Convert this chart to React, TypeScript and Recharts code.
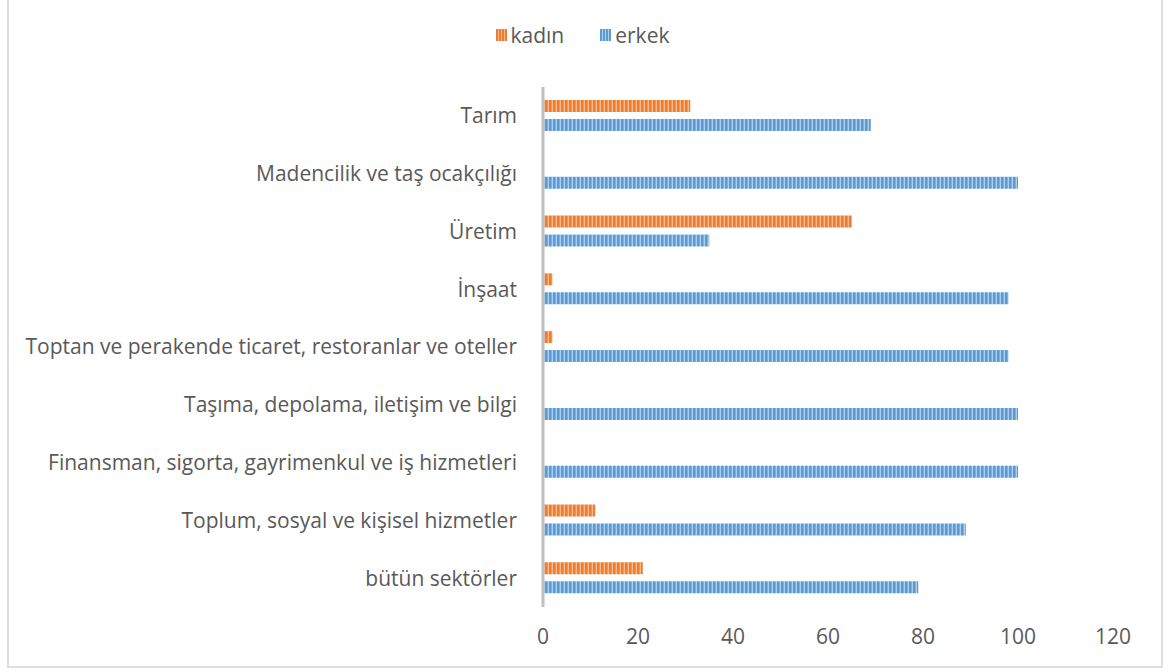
import React from 'react';
import { BarChart, Bar, XAxis, YAxis, Legend } from 'recharts';

const CATEGORIES = [
  'Tarım',
  'Madencilik ve taş ocakçılığı',
  'Üretim',
  'İnşaat',
  'Toptan ve perakende ticaret, restoranlar ve oteller',
  'Taşıma, depolama, iletişim ve bilgi',
  'Finansman, sigorta, gayrimenkul ve iş hizmetleri',
  'Toplum, sosyal ve kişisel hizmetler',
  'bütün sektörler',
];
const KADIN = [31, 0, 65, 2, 2, 0, 0, 11, 21];
const ERKEK = [69, 100, 35, 98, 98, 100, 100, 89, 79];
const X_TICKS = [0, 20, 40, 60, 80, 100, 120];

const data = CATEGORIES.map((name, i) => ({ name, kadin: KADIN[i], erkek: ERKEK[i] }));

const FONT = '"Open Sans", sans-serif';
const TEXT = '#595959';

const SERIES = [
  { key: 'kadin', label: 'kadın', base: '#ED7D31', light: '#F7BA90', pat: 'patK' },
  { key: 'erkek', label: 'erkek', base: '#5B9BD5', light: '#AFCFEC', pat: 'patE' },
];

function Stripes() {
  return (
    <defs>
      {SERIES.map((s) => (
        <pattern key={s.pat} id={s.pat} width={4} height={4} patternUnits="userSpaceOnUse">
          <rect x={0} y={0} width={4} height={4} fill={s.base} />
          <rect x={2.6} y={0} width={1.4} height={4} fill={s.light} />
        </pattern>
      ))}
    </defs>
  );
}

function LegendContent() {
  return (
    <div style={{ display: 'flex', justifyContent: 'center', gap: 36, fontFamily: FONT, fontSize: 21, color: TEXT, lineHeight: '24px', paddingLeft: 43 }}>
      {SERIES.map((s) => (
        <div key={s.key} style={{ display: 'flex', alignItems: 'center', gap: 4 }}>
          <svg width={11} height={12}>
            <defs>
              <pattern id={s.pat + 'L'} width={3} height={3} patternUnits="userSpaceOnUse">
                <rect x={0} y={0} width={3} height={3} fill={s.base} />
                <rect x={2} y={0} width={1} height={3} fill={s.light} />
              </pattern>
            </defs>
            <rect x={0} y={0} width={11} height={12} fill={`url(#${s.pat}L)`} />
          </svg>
          <span>{s.label}</span>
        </div>
      ))}
    </div>
  );
}

export default function App() {
  return (
    <div style={{ position: 'absolute', left: 7, top: -10, width: 1152, height: 674, border: '2px solid #dedede', background: '#fff' }}>
      <BarChart
        width={1152}
        height={674}
        data={data}
        layout="vertical"
        margin={{ top: 71, right: 48, left: 0, bottom: 0 }}
        barSize={12}
        barGap={7}
      >
        <Stripes />
        <Legend verticalAlign="top" align="center" content={<LegendContent />} wrapperStyle={{ top: 31 }} />
        <XAxis
          type="number"
          domain={[0, 120]}
          ticks={X_TICKS}
          axisLine={false}
          tickLine={false}
          height={59}
          tickMargin={16}
          tick={{ fontSize: 21, fill: TEXT, fontFamily: FONT }}
        />
        <YAxis
          type="category"
          dataKey="name"
          width={534}
          axisLine={{ stroke: '#bfbfbf', strokeWidth: 3 }}
          tickLine={false}
          tickMargin={20}
          interval={0}
          tick={{ fontSize: 21, fill: TEXT, fontFamily: FONT }}
        />
        <Bar dataKey="kadin" name="kadın" fill="url(#patK)" isAnimationActive={false} />
        <Bar dataKey="erkek" name="erkek" fill="url(#patE)" isAnimationActive={false} />
      </BarChart>
    </div>
  );
}
